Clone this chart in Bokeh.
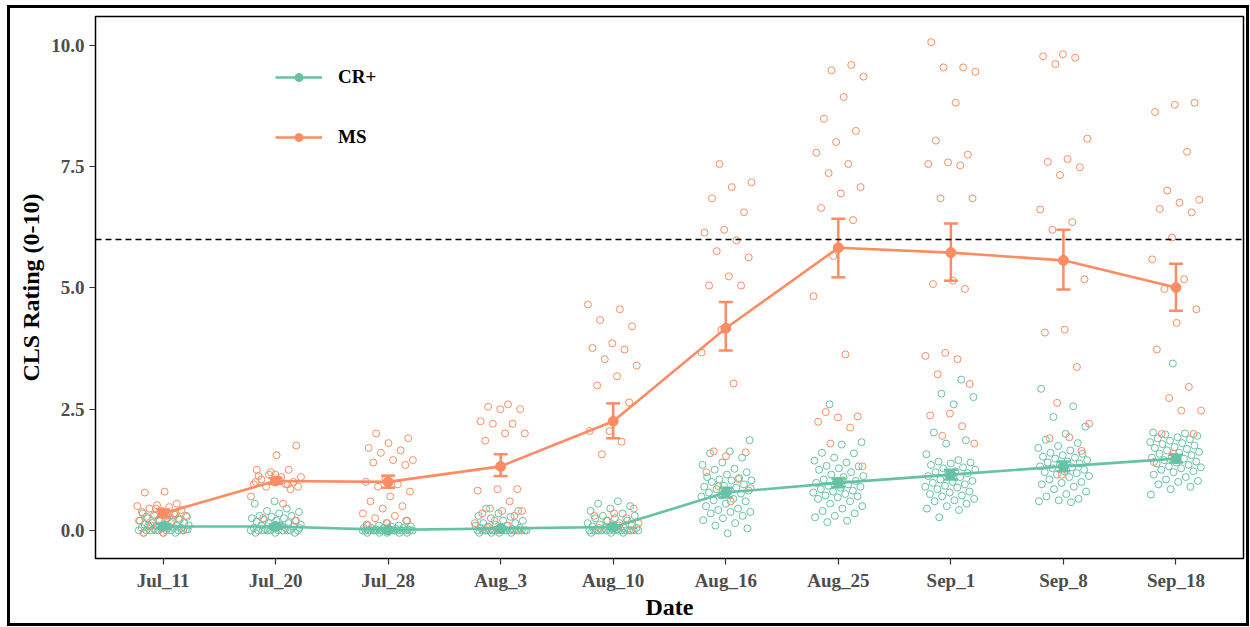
from bokeh.plotting import figure
from bokeh.models import (Range1d, FixedTicker, PrintfTickFormatter, Span, Whisker, TeeHead,
                          ColumnDataSource, Legend, LegendItem)
from bokeh.embed import file_html
from bokeh.resources import INLINE

dates = ["Jul_11", "Jul_20", "Jul_28", "Aug_3", "Aug_10", "Aug_16", "Aug_25", "Sep_1", "Sep_8", "Sep_18"]

ms_mean = [0.35, 1.02, 1.00, 1.32, 2.25, 4.17, 5.83, 5.73, 5.57, 5.01]
ms_lo = [0.27, 0.96, 0.88, 1.12, 1.90, 3.71, 5.22, 5.15, 4.97, 4.53]
ms_hi = [0.43, 1.08, 1.13, 1.57, 2.62, 4.71, 6.43, 6.33, 6.20, 5.50]

cr_mean = [0.08, 0.08, 0.01, 0.04, 0.07, 0.78, 0.98, 1.15, 1.32, 1.48]
cr_lo = [0.04, 0.04, 0.00, 0.01, 0.03, 0.68, 0.89, 1.05, 1.22, 1.40]
cr_hi = [0.13, 0.12, 0.02, 0.07, 0.11, 0.88, 1.07, 1.25, 1.42, 1.56]

ms_points = [
    [0.8, 0.78, 0.55, 0.52, 0.5, 0.48, 0.45, 0.42, 0.4, 0.38, 0.35, 0.32, 0.3, 0.3, 0.28, 0.25, 0.22, 0.2, 0.15, 0.1, 0.0, -0.05, -0.05, 0.35, 0.45],
    [1.75, 1.55, 1.25, 1.25, 1.15, 1.1, 1.1, 1.05, 1.0, 1.0, 0.95, 0.95, 0.9, 0.9, 1.05, 1.12, 0.85, 1.2, 0.7, 0.55, 0.25, 0.2, 1.15, 1.0, 0.95],
    [2.0, 1.9, 1.8, 1.7, 1.65, 1.6, 1.45, 1.45, 1.4, 1.35, 1.05, 1.0, 0.95, 0.9, 0.8, 0.7, 0.6, 0.5, 0.45, 0.35, 0.3, 0.25, 0.2, 0.15, 0.1],
    [2.6, 2.55, 2.5, 2.5, 2.25, 2.2, 2.2, 2.0, 2.0, 1.85, 0.85, 0.85, 0.82, 0.6, 0.45, 0.4, 0.4, 0.35, 0.3, 0.2, 0.15, 0.1, 0.05, 0.0, 0.0],
    [4.66, 4.56, 4.34, 4.21, 3.86, 3.76, 3.73, 3.53, 3.4, 3.18, 2.99, 2.64, 2.05, 2.05, 1.83, 1.57, 0.45, 0.35, 0.3, 0.25, 0.2, 0.15, 0.1, 0.05, 0.0],
    [7.56, 7.18, 7.08, 6.85, 6.56, 6.2, 6.14, 5.98, 5.76, 5.63, 5.24, 5.05, 5.05, 4.14, 3.67, 3.03, 1.63, 1.61, 1.53, 1.2, 1.06, 0.91, 0.87, 0.6],
    [9.6, 9.49, 9.36, 8.94, 8.49, 8.24, 8.01, 7.79, 7.56, 7.37, 7.08, 6.95, 6.65, 6.4, 5.66, 4.83, 3.63, 2.44, 2.35, 2.33, 2.24, 2.12, 1.79, 1.32, 1.03],
    [10.07, 9.55, 9.55, 9.46, 8.82, 8.04, 7.75, 7.59, 7.56, 7.53, 6.85, 6.85, 5.15, 5.08, 4.98, 3.66, 3.6, 3.53, 3.22, 3.02, 2.41, 2.37, 2.15, 1.95, 1.79],
    [9.82, 9.78, 9.75, 9.62, 8.08, 7.66, 7.6, 7.49, 7.33, 6.62, 6.36, 6.2, 5.18, 4.14, 4.08, 3.37, 2.63, 2.2, 1.92, 1.9, 1.64, 1.15],
    [8.82, 8.78, 8.63, 7.81, 7.01, 6.82, 6.76, 6.63, 6.56, 6.04, 5.59, 5.18, 4.98, 4.56, 4.28, 3.73, 2.96, 2.73, 2.47, 2.47, 1.99, 1.99, 1.58, 1.41],
]

cr_points = [
    [0.35, 0.32, 0.3, 0.28, 0.25, 0.25, 0.22, 0.2, 0.2, 0.18, 0.15, 0.15, 0.12, 0.12, 0.1, 0.1, 0.1, 0.08, 0.08, 0.05, 0.05, 0.05, 0.05, 0.03, 0.02, 0.0, 0.0, 0.0, 0.0, 0.0, 0.0, 0.0, 0.0, -0.05, -0.05, -0.05, 0.0, 0.02, 0.05, 0.1],
    [0.6, 0.55, 0.45, 0.4, 0.38, 0.35, 0.3, 0.3, 0.28, 0.25, 0.25, 0.22, 0.2, 0.2, 0.18, 0.15, 0.15, 0.12, 0.1, 0.1, 0.08, 0.05, 0.05, 0.05, 0.02, 0.0, 0.0, 0.0, 0.0, 0.0, 0.0, 0.0, 0.0, -0.05, -0.05, -0.05, 0.0, 0.0, 0.05, 0.1],
    [0.2, 0.15, 0.12, 0.1, 0.1, 0.08, 0.08, 0.05, 0.05, 0.05, 0.05, 0.03, 0.02, 0.02, 0.0, 0.0, 0.0, 0.0, 0.0, 0.0, 0.0, 0.0, 0.0, 0.0, 0.0, 0.0, 0.0, 0.0, 0.0, 0.0, 0.0, 0.0, 0.0, 0.0, -0.05, -0.05, -0.05, -0.05, -0.05],
    [0.45, 0.4, 0.35, 0.3, 0.28, 0.25, 0.2, 0.2, 0.15, 0.15, 0.12, 0.1, 0.1, 0.08, 0.05, 0.05, 0.05, 0.02, 0.0, 0.0, 0.0, 0.0, 0.0, 0.0, 0.0, 0.0, 0.0, 0.0, 0.0, 0.0, 0.0, 0.0, 0.0, 0.0, 0.0, 0.0, -0.05, -0.05, -0.05, -0.05],
    [0.6, 0.55, 0.5, 0.45, 0.4, 0.35, 0.3, 0.3, 0.25, 0.25, 0.2, 0.2, 0.15, 0.15, 0.12, 0.1, 0.1, 0.08, 0.05, 0.05, 0.05, 0.02, 0.0, 0.0, 0.0, 0.0, 0.0, 0.0, 0.0, 0.0, 0.0, 0.0, 0.0, 0.0, 0.0, 0.0, 0.0, -0.05, -0.05, -0.05],
    [1.86, 1.63, 1.59, 1.5, 1.4, 1.35, 1.27, 1.25, 1.2, 1.15, 1.1, 1.08, 1.05, 1.03, 1.03, 1.0, 0.95, 0.92, 0.9, 0.88, 0.85, 0.82, 0.8, 0.78, 0.76, 0.72, 0.7, 0.65, 0.62, 0.6, 0.55, 0.5, 0.45, 0.42, 0.38, 0.38, 0.35, 0.3, 0.25, 0.21, 0.15, 0.1, 0.04, -0.06],
    [2.6, 1.82, 1.77, 1.6, 1.59, 1.5, 1.44, 1.4, 1.33, 1.32, 1.28, 1.25, 1.2, 1.15, 1.12, 1.1, 1.05, 1.02, 1.0, 0.98, 0.95, 0.92, 0.9, 0.88, 0.85, 0.82, 0.8, 0.78, 0.75, 0.72, 0.7, 0.68, 0.65, 0.6, 0.55, 0.5, 0.45, 0.4, 0.35, 0.3, 0.27, 0.2, 0.17],
    [3.11, 2.82, 2.75, 2.6, 2.02, 1.86, 1.79, 1.57, 1.45, 1.42, 1.4, 1.38, 1.35, 1.3, 1.28, 1.25, 1.22, 1.2, 1.18, 1.15, 1.12, 1.1, 1.05, 1.02, 1.0, 0.98, 0.95, 0.92, 0.9, 0.88, 0.85, 0.8, 0.78, 0.75, 0.72, 0.7, 0.65, 0.62, 0.6, 0.55, 0.5, 0.45, 0.42, 0.27],
    [2.92, 2.56, 2.34, 2.14, 1.99, 1.87, 1.8, 1.74, 1.7, 1.65, 1.6, 1.58, 1.55, 1.52, 1.5, 1.48, 1.45, 1.42, 1.4, 1.38, 1.35, 1.32, 1.3, 1.28, 1.25, 1.22, 1.2, 1.18, 1.15, 1.12, 1.1, 1.05, 1.0, 0.98, 0.95, 0.9, 0.85, 0.8, 0.75, 0.7, 0.65, 0.62, 0.6, 0.58],
    [3.44, 2.02, 2.0, 1.98, 1.95, 1.92, 1.9, 1.88, 1.85, 1.82, 1.8, 1.78, 1.75, 1.72, 1.7, 1.68, 1.65, 1.62, 1.6, 1.58, 1.55, 1.52, 1.5, 1.48, 1.45, 1.42, 1.4, 1.38, 1.35, 1.32, 1.3, 1.28, 1.25, 1.22, 1.2, 1.15, 1.1, 1.05, 1.02, 1.0, 0.95, 0.9, 0.85, 0.74],
]

CR_COL = "#66C2A5"
MS_COL = "#FC8D62"
FONT = "Liberation Serif"
W, H = 1242, 621


def jittered(points, seed):
    xs, ys = [], []
    for d, vals in enumerate(points):
        for k, v in enumerate(vals):
            frac = (k * 0.6180339887 + d * 0.37 + seed) % 1.0
            xs.append(d + 1 + (frac - 0.5) * 0.46)
            ys.append(v)
    return xs, ys


p = figure(width=W, height=H,
           x_range=Range1d(0.4, 10.6), y_range=Range1d(-0.58, 10.6),
           output_backend="svg", toolbar_location=None,
           min_border_left=85, min_border_top=8, min_border_right=9, min_border_bottom=71)
p.styles = {"border": "3px solid black", "margin": "5px 0px 0px 7px", "overflow": "hidden"}
p.xgrid.visible = False
p.ygrid.visible = False
p.outline_line_color = "black"
p.outline_line_width = 1.5
p.background_fill_color = "white"
p.border_fill_color = "white"

cx, cy = jittered(cr_points, 0.11)
mx, my = jittered(ms_points, 0.53)
p.scatter(cx, cy, size=7, fill_color=None, line_color=CR_COL, line_width=1)
p.scatter(mx, my, size=7, fill_color=None, line_color=MS_COL, line_width=1)

p.add_layout(Span(location=6, dimension="width", line_color="black", line_dash="6 4", line_width=1.3))

xpos = list(range(1, len(dates) + 1))
src_cr = ColumnDataSource(dict(x=xpos, m=cr_mean, lo=cr_lo, hi=cr_hi))
src_ms = ColumnDataSource(dict(x=xpos, m=ms_mean, lo=ms_lo, hi=ms_hi))

l_cr = p.line("x", "m", source=src_cr, line_color=CR_COL, line_width=2.6)
l_ms = p.line("x", "m", source=src_ms, line_color=MS_COL, line_width=2.6)

for src, col in ((src_cr, CR_COL), (src_ms, MS_COL)):
    w = Whisker(base="x", lower="lo", upper="hi", source=src, line_color=col, line_width=2.5,
                upper_head=TeeHead(size=14, line_color=col, line_width=2.5),
                lower_head=TeeHead(size=14, line_color=col, line_width=2.5))
    p.add_layout(w)

s_cr = p.scatter("x", "m", source=src_cr, size=10, fill_color=CR_COL, line_color=CR_COL)
s_ms = p.scatter("x", "m", source=src_ms, size=10, fill_color=MS_COL, line_color=MS_COL)

legend = Legend(items=[LegendItem(label="CR+", renderers=[l_cr, s_cr]),
                       LegendItem(label="MS", renderers=[l_ms, s_ms])],
                location=(180, 410), orientation="vertical",
                glyph_width=47, glyph_height=20, label_height=20, spacing=38, padding=0, margin=0,
                label_standoff=16, background_fill_alpha=0, border_line_alpha=0,
                label_text_font=FONT, label_text_font_style="bold", label_text_font_size="19px",
                label_text_color="black")
p.add_layout(legend)

p.xaxis.ticker = FixedTicker(ticks=xpos)
p.xaxis.major_label_overrides = {x: d for x, d in zip(xpos, dates)}
p.yaxis.ticker = FixedTicker(ticks=[0, 2.5, 5, 7.5, 10])
p.yaxis.formatter = PrintfTickFormatter(format="%.1f")
p.xaxis.axis_label = "Date"
p.yaxis.axis_label = "CLS Rating (0-10)"

for ax in (p.xaxis[0], p.yaxis[0]):
    ax.axis_line_color = None
    ax.major_tick_line_color = "#333333"
    ax.major_tick_line_width = 1.2
    ax.major_tick_out = 6
    ax.major_tick_in = 0
    ax.minor_tick_line_color = None
    ax.major_label_text_font = FONT
    ax.major_label_text_font_style = "bold"
    ax.major_label_text_font_size = "19px"
    ax.major_label_text_color = "#4D4D4D"
    ax.axis_label_text_font = FONT
    ax.axis_label_text_font_style = "bold"
    ax.axis_label_text_font_size = "24px"
    ax.axis_label_text_color = "black"
p.xaxis.major_label_standoff = 5
p.xaxis.axis_label_standoff = 0
p.yaxis.major_label_standoff = 5
p.yaxis.axis_label_standoff = 4

open("out.html", "w").write(file_html(p, INLINE))
